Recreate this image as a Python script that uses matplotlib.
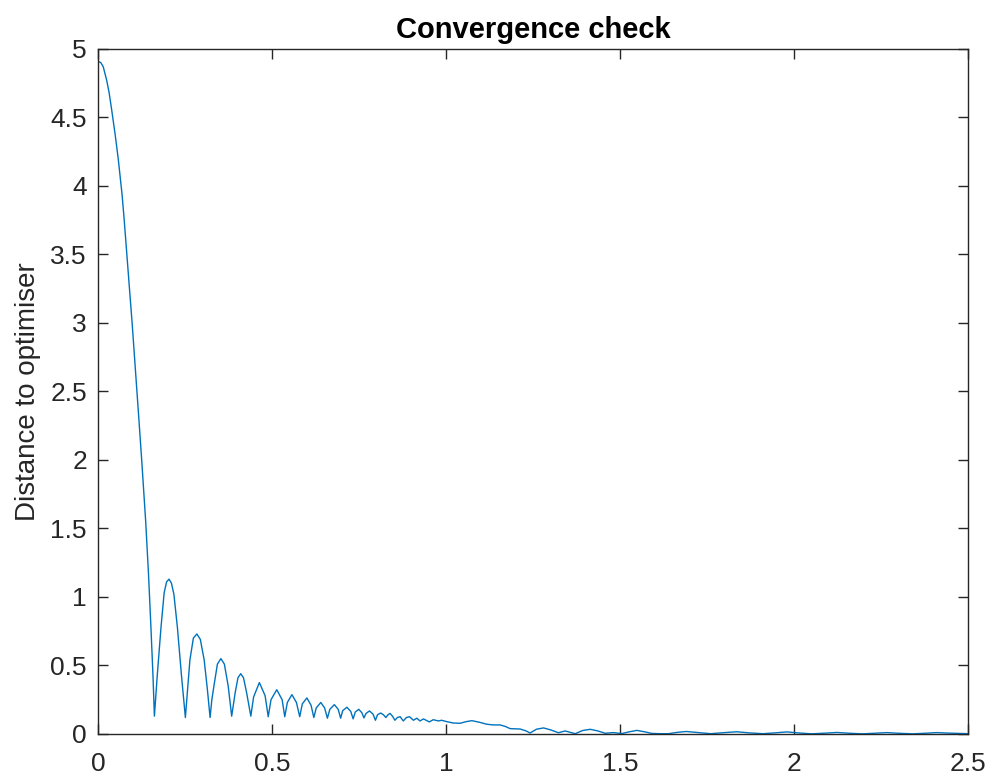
import matplotlib
matplotlib.use('Agg')
import matplotlib.pyplot as plt
import numpy as np

plt.rcParams['font.family'] = ['Liberation Sans', 'DejaVu Sans']

# distance to optimiser
t = [0.000, 0.008, 0.015, 0.025, 0.032, 0.039, 0.049, 0.058, 0.064, 0.069,
     0.075, 0.083, 0.091, 0.098, 0.105, 0.112, 0.119, 0.126, 0.137, 0.145,
     0.152, 0.158, 0.162, 0.170, 0.181, 0.190, 0.197, 0.204, 0.211, 0.218,
     0.228, 0.240, 0.251, 0.258, 0.264, 0.274, 0.284, 0.294, 0.305, 0.314,
     0.322, 0.327, 0.333, 0.343, 0.353, 0.363, 0.374, 0.384, 0.394, 0.402,
     0.410, 0.418, 0.427, 0.439, 0.447, 0.4635, 0.480, 0.489, 0.497, 0.5135,
     0.529, 0.5365, 0.544, 0.557, 0.570, 0.5795, 0.587, 0.600, 0.612, 0.620,
     0.627, 0.640, 0.651, 0.659, 0.666, 0.679, 0.690, 0.697, 0.703, 0.715,
     0.726, 0.733, 0.739, 0.749, 0.758, 0.764, 0.770, 0.780, 0.790, 0.797,
     0.803, 0.812, 0.820, 0.827, 0.833, 0.839, 0.846, 0.853, 0.860, 0.868,
     0.877, 0.886, 0.895, 0.906, 0.916, 0.925, 0.935, 0.952, 0.963, 0.978,
     0.987, 1.002, 1.020, 1.040, 1.058, 1.074, 1.095, 1.117, 1.135, 1.155,
     1.170, 1.184, 1.213, 1.230, 1.241, 1.260, 1.280, 1.300, 1.323, 1.342,
     1.371, 1.392, 1.414, 1.436, 1.457, 1.480, 1.505, 1.525, 1.548, 1.570,
     1.591, 1.615, 1.639, 1.665, 1.690, 1.715, 1.760, 1.800, 1.835, 1.870,
     1.910, 1.945, 1.979, 2.015, 2.050, 2.090, 2.123, 2.160, 2.195, 2.230,
     2.266, 2.300, 2.340, 2.375, 2.410, 2.445, 2.500]
dist = [4.91, 4.90, 4.87, 4.77, 4.68, 4.56, 4.38, 4.20, 4.06, 3.94,
        3.76, 3.50, 3.23, 3.00, 2.75, 2.50, 2.24, 1.98, 1.55, 1.17,
        0.78, 0.42, 0.13, 0.42, 0.78, 1.03, 1.11, 1.13, 1.10, 1.02,
        0.78, 0.42, 0.12, 0.35, 0.54, 0.70, 0.73, 0.69, 0.54, 0.33,
        0.12, 0.25, 0.35, 0.51, 0.55, 0.51, 0.35, 0.13, 0.30, 0.41,
        0.44, 0.41, 0.30, 0.13, 0.27, 0.375, 0.28, 0.126, 0.25, 0.323,
        0.25, 0.126, 0.23, 0.287, 0.23, 0.126, 0.22, 0.263, 0.21, 0.12,
        0.19, 0.23, 0.19, 0.115, 0.18, 0.214, 0.18, 0.115, 0.17, 0.195,
        0.165, 0.11, 0.16, 0.18, 0.155, 0.117, 0.15, 0.168, 0.145, 0.10,
        0.14, 0.153, 0.14, 0.12, 0.14, 0.15, 0.13, 0.10, 0.12, 0.126,
        0.095, 0.12, 0.126, 0.10, 0.115, 0.095, 0.11, 0.088, 0.104, 0.095,
        0.10, 0.09, 0.080, 0.078, 0.09, 0.097, 0.086, 0.071, 0.066, 0.066,
        0.055, 0.039, 0.036, 0.022, 0.007, 0.035, 0.044, 0.030, 0.009, 0.022,
        0.002, 0.025, 0.034, 0.022, 0.005, 0.010, 0.003, 0.015, 0.026, 0.016,
        0.004, 0.002, 0.002, 0.012, 0.018, 0.012, 0.002, 0.010, 0.016, 0.008,
        0.002, 0.008, 0.015, 0.007, 0.001, 0.006, 0.011, 0.005, 0.001, 0.005,
        0.010, 0.005, 0.001, 0.005, 0.010, 0.006, 0.002]

xticks = [0, 0.5, 1, 1.5, 2, 2.5]
yticks = [0, 0.5, 1, 1.5, 2, 2.5, 3, 3.5, 4, 4.5, 5]

fig = plt.figure(figsize=(9.9, 7.78), dpi=100)
ax = fig.add_axes([0.099, 0.0566, 0.879, 0.8805])
ax.plot(t, dist, color='#0072BD', lw=1.0)

ax.set_xlim(0, 2.5)
ax.set_ylim(0, 5)
ax.set_xticks(xticks)
ax.set_yticks(yticks)
ax.set_xticklabels(['%g' % v for v in xticks])
ax.set_yticklabels(['%g' % v for v in yticks])
ax.tick_params(direction='in', length=7, width=1, colors='#262626',
               labelsize=19, top=True, right=True)
ax.tick_params(axis='y', pad=8)
ax.tick_params(axis='x', pad=13)
for s in ax.spines.values():
    s.set_color('#262626')
    s.set_linewidth(1)

ax.set_ylabel('Distance to optimiser', fontsize=20, color='#262626', labelpad=7)
ax.set_title('Convergence check', fontsize=21, fontweight='bold', pad=8)

fig.savefig('out.png', dpi=100)
